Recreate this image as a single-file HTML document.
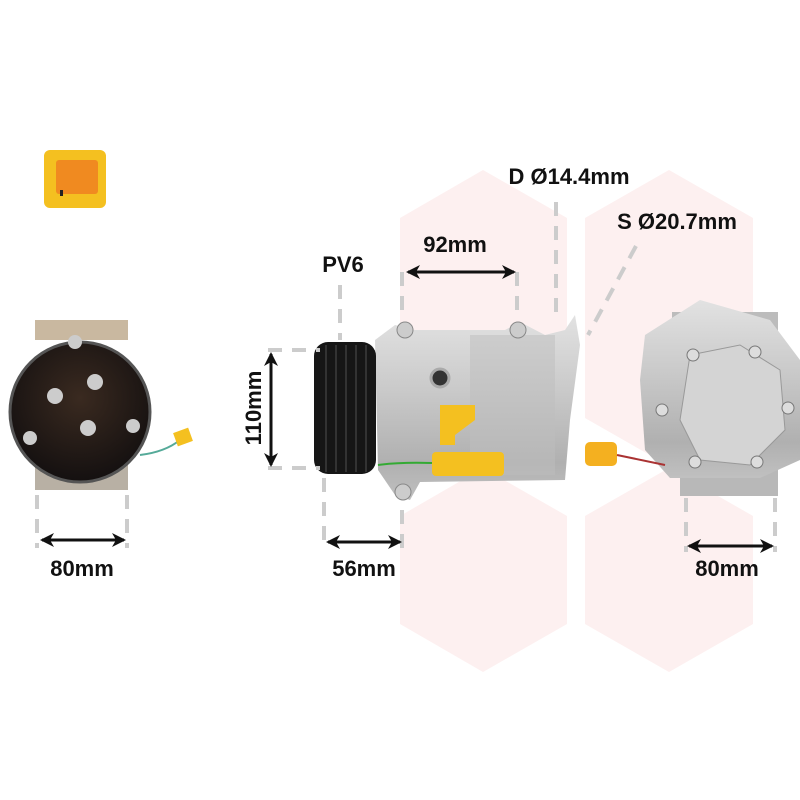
<!DOCTYPE html>
<html><head><meta charset="utf-8"><style>
html,body{margin:0;padding:0;background:#fff;width:800px;height:800px;overflow:hidden}
svg text{font-family:"Liberation Sans",sans-serif;font-weight:bold;fill:#111}
</style></head><body>
<svg width="800" height="800" viewBox="0 0 800 800" xmlns="http://www.w3.org/2000/svg">
<defs>
<linearGradient id="sil" x1="0" y1="0" x2="0" y2="1">
<stop offset="0" stop-color="#e2e2e2"/><stop offset=".4" stop-color="#cacaca"/><stop offset=".8" stop-color="#b0b0b0"/><stop offset="1" stop-color="#c0c0c0"/></linearGradient>
<radialGradient id="blk" cx=".5" cy=".4" r=".6"><stop offset="0" stop-color="#3a2a20"/><stop offset="1" stop-color="#141010"/></radialGradient>
<marker id="ah" markerWidth="14" markerHeight="14" refX="12" refY="7" orient="auto-start-reverse" markerUnits="userSpaceOnUse"><path d="M0,0 L14,7 L0,14 L4,7z" fill="#111"/></marker>
</defs>
<g fill="#fdf0f0">
<polygon points="483,170 567,218 567,418 483,466 400,418 400,218"/>
<polygon points="669,170 753,218 753,418 669,466 585,418 585,218"/>
<polygon points="483,468 567,516 567,624 483,672 400,624 400,516"/>
<polygon points="669,468 753,516 753,624 669,672 585,624 585,516"/>
</g>
<rect x="44" y="150" width="62" height="58" rx="6" fill="#f4c020"/>
<rect x="56" y="160" width="42" height="34" rx="3" fill="#f08a20"/>
<rect x="60" y="190" width="3" height="6" fill="#222"/>
<rect x="35" y="320" width="93" height="20" fill="#c9b8a0"/>
<rect x="35" y="460" width="93" height="30" fill="#b8b0a4"/>
<circle cx="80" cy="412" r="70" fill="url(#blk)"/>
<circle cx="80" cy="412" r="70" fill="none" stroke="#555" stroke-width="3"/>
<g fill="#ccc"><circle cx="75" cy="342" r="7"/><circle cx="95" cy="382" r="8"/><circle cx="55" cy="396" r="8"/><circle cx="88" cy="428" r="8"/><circle cx="30" cy="438" r="7"/><circle cx="133" cy="426" r="7"/></g>
<path d="M140,455 Q165,452 180,440" stroke="#5a9" stroke-width="2" fill="none"/>
<rect x="175" y="430" width="16" height="14" fill="#f4c020" transform="rotate(-20 183 437)"/>
<path d="M375,340 L395,325 L415,330 L505,330 L520,322 L545,335 L565,330 L575,315 L580,345 L570,420 L565,480 L420,482 L410,500 L395,495 L378,470 Z" fill="url(#sil)"/>
<rect x="470" y="335" width="85" height="140" fill="#bdbdbd" opacity=".5"/>
<circle cx="405" cy="330" r="8" fill="#ccc" stroke="#888"/>
<circle cx="518" cy="330" r="8" fill="#ccc" stroke="#888"/>
<circle cx="403" cy="492" r="8" fill="#ccc" stroke="#888"/>
<circle cx="440" cy="378" r="9" fill="#333" stroke="#aaa" stroke-width="3"/>
<path d="M440,405 L475,405 L475,420 L455,435 L455,445 L440,445 Z" fill="#f4c020"/>
<rect x="432" y="452" width="72" height="24" rx="4" fill="#f4c020"/>
<path d="M378,465 Q400,462 432,463" stroke="#3a3" stroke-width="2" fill="none"/>
<rect x="314" y="342" width="62" height="132" rx="14" fill="#161616"/>
<g stroke="#333" stroke-width="2"><line x1="326" y1="345" x2="326" y2="472"/><line x1="336" y1="345" x2="336" y2="472"/><line x1="346" y1="345" x2="346" y2="472"/><line x1="356" y1="345" x2="356" y2="472"/><line x1="366" y1="345" x2="366" y2="472"/></g>
<rect x="672" y="312" width="106" height="36" fill="#bcbcbc"/>
<rect x="680" y="460" width="98" height="36" fill="#b8b8b8"/>
<path d="M645,335 L700,300 L770,320 L800,360 L800,460 L760,478 L670,478 L645,450 L640,380 Z" fill="url(#sil)"/>
<path d="M690,355 L740,345 L780,370 L785,430 L750,465 L700,460 L680,420 Z" fill="#d4d4d4" stroke="#999"/>
<g fill="#ddd" stroke="#777"><circle cx="693" cy="355" r="6"/><circle cx="755" cy="352" r="6"/><circle cx="662" cy="410" r="6"/><circle cx="788" cy="408" r="6"/><circle cx="695" cy="462" r="6"/><circle cx="757" cy="462" r="6"/></g>
<rect x="585" y="442" width="32" height="24" rx="5" fill="#f4b020"/>
<path d="M617,455 L665,465" stroke="#a33" stroke-width="2"/>
<g stroke="#ccc" stroke-width="4" stroke-dasharray="14,10" fill="none">
<line x1="37" y1="495" x2="37" y2="548"/><line x1="127" y1="495" x2="127" y2="548"/>
<line x1="340" y1="285" x2="340" y2="340"/>
<line x1="402" y1="272" x2="402" y2="320"/><line x1="517" y1="272" x2="517" y2="320"/>
<line x1="556" y1="202" x2="556" y2="320"/>
<line x1="636" y1="246" x2="588" y2="335"/>
<line x1="268" y1="350" x2="320" y2="350"/><line x1="268" y1="468" x2="320" y2="468"/>
<line x1="324" y1="478" x2="324" y2="548"/><line x1="402" y1="510" x2="402" y2="548"/>
<line x1="686" y1="498" x2="686" y2="552"/><line x1="775" y1="498" x2="775" y2="552"/>
</g>
<g stroke="#111" stroke-width="3" marker-start="url(#ah)" marker-end="url(#ah)">
<line x1="42" y1="540" x2="124" y2="540"/>
<line x1="408" y1="272" x2="514" y2="272"/>
<line x1="271" y1="354" x2="271" y2="465"/>
<line x1="328" y1="542" x2="400" y2="542"/>
<line x1="689" y1="546" x2="772" y2="546"/>
</g>
<g font-size="22">
<text x="82" y="576" text-anchor="middle">80mm</text>
<text x="364" y="576" text-anchor="middle">56mm</text>
<text x="727" y="576" text-anchor="middle">80mm</text>
<text x="455" y="252" text-anchor="middle">92mm</text>
<text x="343" y="272" text-anchor="middle">PV6</text>
<text x="569" y="184" text-anchor="middle">D Ø14.4mm</text>
<text x="677" y="229" text-anchor="middle">S Ø20.7mm</text>
<text x="0" y="0" text-anchor="middle" transform="translate(261,408) rotate(-90)">110mm</text>
</g>
</svg>
</body></html>
